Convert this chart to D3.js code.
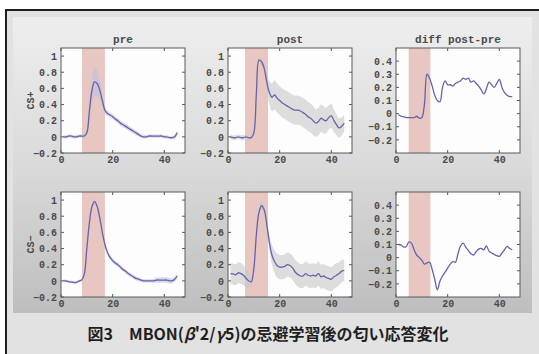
<!DOCTYPE html>
<html lang="ja">
<head>
<meta charset="utf-8">
<title>MBON(β'2/γ5) odor response</title>
<script src="https://d3js.org/d3.v7.min.js"></script>
<style>
  body { margin: 0; background: #fff; }
</style>
</head>
<body>
<div id="figure"></div>
<script>

// ---- data ----
var timePoints = [1,2,3,4,5,6,7,8,9,10,11,12,13,14,15,16,17,18,19,20,21,22,23,24,25,26,27,28,29,30,31,32,33,34,35,36,37,38,39,40,41,42,43,44,45];

var preCSplus = [0.00,0.00,0.01,0.01,0.00,0.00,0.01,0.01,0.01,0.05,
  0.32,0.58,0.68,0.66,0.58,0.45,0.33,0.29,0.27,0.25,
  0.22,0.20,0.17,0.15,0.13,0.11,0.09,0.07,0.05,0.03,
  0.01,0.00,0.00,0.01,0.01,0.01,0.01,0.01,0.01,0.00,
  0.00,-0.01,-0.01,0.00,0.05];
var preCSplusSem = [0.02,0.02,0.02,0.02,0.02,0.02,0.02,0.02,0.02,0.03,
  0.08,0.14,0.17,0.16,0.12,0.08,0.05,0.03,0.03,0.03,
  0.03,0.03,0.03,0.03,0.03,0.03,0.03,0.03,0.03,0.03,
  0.02,0.02,0.02,0.02,0.02,0.02,0.02,0.02,0.02,0.02,
  0.02,0.02,0.02,0.03,0.03];

var postCSplus = [0.00,-0.01,-0.01,0.00,-0.01,-0.01,0.00,-0.01,-0.01,0.05,
  0.55,0.95,0.93,0.85,0.68,0.55,0.49,0.52,0.48,0.45,
  0.42,0.40,0.38,0.36,0.34,0.33,0.33,0.32,0.30,0.28,
  0.25,0.23,0.20,0.17,0.19,0.23,0.21,0.20,0.24,0.26,
  0.20,0.15,0.11,0.13,0.17];
var postCSplusSem = [0.03,0.03,0.03,0.03,0.03,0.03,0.03,0.03,0.03,0.03,
  0.04,0.04,0.04,0.06,0.10,0.14,0.17,0.18,0.18,0.18,
  0.18,0.18,0.18,0.18,0.18,0.18,0.18,0.18,0.18,0.18,
  0.18,0.18,0.18,0.17,0.17,0.17,0.17,0.16,0.15,0.15,
  0.14,0.13,0.12,0.11,0.10];

var diffCSplus = [-0.01,-0.02,-0.025,-0.03,-0.03,-0.03,-0.03,-0.02,-0.035,-0.03,
  0.07,0.30,0.27,0.21,0.14,0.10,0.09,0.20,0.25,0.22,
  0.22,0.21,0.23,0.24,0.25,0.27,0.26,0.27,0.24,0.25,
  0.23,0.21,0.18,0.15,0.19,0.24,0.22,0.20,0.23,0.26,
  0.20,0.16,0.14,0.13,0.13];

var preCSminus = [0.00,0.00,-0.01,-0.015,-0.02,-0.02,0.00,0.01,0.08,0.40,
  0.72,0.92,0.98,0.92,0.78,0.60,0.45,0.35,0.29,0.25,
  0.22,0.20,0.17,0.14,0.12,0.09,0.07,0.05,0.03,0.02,
  0.01,0.00,0.00,0.00,0.00,0.00,0.01,0.01,0.01,0.01,
  0.01,0.00,0.00,0.02,0.06];
var preCSminusSem = [0.015,0.015,0.015,0.015,0.015,0.015,0.015,0.015,0.02,0.03,
  0.03,0.03,0.03,0.03,0.03,0.03,0.03,0.03,0.03,0.03,
  0.025,0.025,0.025,0.025,0.025,0.025,0.025,0.025,0.025,0.025,
  0.02,0.02,0.02,0.02,0.02,0.025,0.03,0.035,0.035,0.035,
  0.035,0.035,0.03,0.03,0.03];

var postCSminus = [0.09,0.085,0.075,0.10,0.09,0.07,0.03,0.00,-0.01,0.15,
  0.58,0.85,0.93,0.88,0.70,0.48,0.32,0.24,0.19,0.17,
  0.17,0.18,0.20,0.19,0.16,0.11,0.08,0.06,0.06,0.09,
  0.07,0.06,0.07,0.06,0.09,0.05,0.06,0.04,0.03,0.02,
  0.05,0.07,0.09,0.12,0.13];
var postCSminusSem = [0.13,0.13,0.13,0.13,0.13,0.12,0.11,0.10,0.08,0.06,
  0.05,0.05,0.05,0.05,0.06,0.08,0.12,0.14,0.15,0.15,
  0.15,0.15,0.15,0.15,0.15,0.15,0.15,0.15,0.15,0.15,
  0.15,0.15,0.15,0.15,0.15,0.15,0.15,0.15,0.15,0.15,
  0.15,0.15,0.14,0.14,0.13];

var diffCSminus = [0.10,0.095,0.08,0.085,0.12,0.11,0.06,0.02,0.00,-0.02,
  -0.05,-0.04,-0.035,-0.09,-0.165,-0.245,-0.18,-0.14,-0.11,-0.08,
  -0.05,-0.03,-0.035,0.03,0.09,0.11,0.08,0.055,0.03,0.02,
  0.045,0.065,0.07,0.06,0.09,0.05,0.035,0.025,0.015,0.01,
  0.035,0.06,0.085,0.07,0.06];

// odor window (shaded) for each column, in time units
var stimStart = [8.1, 6.6, 4.9];
var stimEnd = [17.0, 15.5, 13.3];

var colTitles = ["pre", "post", "diff post-pre"];
var rowLabels = ["CS+", "CS\u2212"];
var xTicks = [0, 20, 40];
var respTicks = [-0.2, 0, 0.2, 0.4, 0.6, 0.8, 1];
var diffTicks = [-0.2, -0.1, 0, 0.1, 0.2, 0.3, 0.4];

var panels = [
  {row: 0, col: 0, mean: preCSplus, sem: preCSplusSem, band: "#bfbfe0"},
  {row: 0, col: 1, mean: postCSplus, sem: postCSplusSem, band: "#c8c8c8"},
  {row: 0, col: 2, mean: diffCSplus, sem: null},
  {row: 1, col: 0, mean: preCSminus, sem: preCSminusSem, band: "#bfbfe0"},
  {row: 1, col: 1, mean: postCSminus, sem: postCSminusSem, band: "#c8c8c8"},
  {row: 1, col: 2, mean: diffCSminus, sem: null}
];

// ---- layout ----
var W = 539, H = 354;
var colX = [61, 228, 396];
var rowY = [48, 192];
var fw = 124, fh = 105;

var tickFont = "'Liberation Mono', 'DejaVu Sans Mono', monospace";
var fmt = d3.format("~g");

var svg = d3.select("#figure")
  .append("svg")
  .attr("width", W)
  .attr("height", H)
  .style("display", "block");

var defs = svg.append("defs");
var grad = defs.append("linearGradient")
  .attr("id", "panelGrad")
  .attr("x1", 0).attr("y1", 0).attr("x2", 0).attr("y2", 1);
grad.append("stop").attr("offset", "0%").attr("stop-color", "#eeeeee");
grad.append("stop").attr("offset", "50%").attr("stop-color", "#dadada");
grad.append("stop").attr("offset", "100%").attr("stop-color", "#bebebe");

// slide background + black border lines
svg.append("rect").attr("width", W).attr("height", H).attr("fill", "#ffffff");
svg.append("rect").attr("x", 6).attr("y", 10).attr("width", W - 6).attr("height", H - 10).attr("fill", "#e2e2e2");
svg.append("rect").attr("x", 5).attr("y", 9).attr("width", W - 5).attr("height", 2).attr("fill", "#1e1e1e");
svg.append("rect").attr("x", 5).attr("y", 9).attr("width", 2).attr("height", H - 9).attr("fill", "#1e1e1e");
svg.append("rect").attr("x", 13).attr("y", 17).attr("width", 519).attr("height", 296).attr("fill", "url(#panelGrad)");

panels.forEach(function(p, i) {
  var isDiff = p.sem === null;
  var x = d3.scaleLinear().domain([0, 48]).range([0, fw]);
  var y = d3.scaleLinear()
    .domain(isDiff ? [-0.3, 0.5] : [-0.2, 1.1])
    .range([fh, 0]);
  var yTicks = isDiff ? diffTicks : respTicks;

  var g = svg.append("g")
    .attr("transform", "translate(" + colX[p.col] + "," + rowY[p.row] + ")");

  defs.append("clipPath").attr("id", "clip" + i)
    .append("rect").attr("width", fw).attr("height", fh);

  g.append("rect")
    .attr("width", fw)
    .attr("height", fh)
    .attr("fill", "#fdfdfd");

  var plot = g.append("g").attr("clip-path", "url(#clip" + i + ")");

  // odor window
  plot.append("rect")
    .attr("x", x(stimStart[p.col]))
    .attr("y", 0)
    .attr("width", x(stimEnd[p.col]) - x(stimStart[p.col]))
    .attr("height", fh)
    .attr("fill", "#e8c6c2");

  var pts = timePoints.map(function(t, k) {
    return {t: t, m: p.mean[k], s: p.sem ? p.sem[k] : 0};
  });

  if (!isDiff) {
    var area = d3.area()
      .x(function(d) { return x(d.t); })
      .y0(function(d) { return y(d.m - d.s); })
      .y1(function(d) { return y(d.m + d.s); })
      .curve(d3.curveCatmullRom);
    plot.append("path")
      .datum(pts)
      .attr("d", area)
      .attr("fill", p.band)
      .attr("opacity", 0.6);
  }

  var line = d3.line()
    .x(function(d) { return x(d.t); })
    .y(function(d) { return y(d.m); })
    .curve(d3.curveCatmullRom);
  plot.append("path")
    .datum(pts)
    .attr("d", line)
    .attr("fill", "none")
    .attr("stroke", "#6464aa")
    .attr("stroke-width", 1.3);

  // frame
  g.append("rect")
    .attr("width", fw)
    .attr("height", fh)
    .attr("fill", "none")
    .attr("stroke", "#5a5a5a")
    .attr("stroke-width", 1);

  // inward ticks on every side (matlab style)
  yTicks.forEach(function(v) {
    g.append("line").attr("x1", 0).attr("x2", 3).attr("y1", y(v)).attr("y2", y(v)).attr("stroke", "#5a5a5a");
    g.append("line").attr("x1", fw - 3).attr("x2", fw).attr("y1", y(v)).attr("y2", y(v)).attr("stroke", "#5a5a5a");
  });
  xTicks.forEach(function(v) {
    g.append("line").attr("x1", x(v)).attr("x2", x(v)).attr("y1", fh - 3).attr("y2", fh).attr("stroke", "#5a5a5a");
    g.append("line").attr("x1", x(v)).attr("x2", x(v)).attr("y1", 0).attr("y2", 3).attr("stroke", "#5a5a5a");
  });

  // tick labels
  var yAxis = g.append("g")
    .call(d3.axisLeft(y).tickValues(yTicks).tickSize(0).tickPadding(4).tickFormat(fmt));
  var xAxis = g.append("g")
    .attr("transform", "translate(0," + fh + ")")
    .call(d3.axisBottom(x).tickValues(xTicks).tickSize(0).tickPadding(3).tickFormat(fmt));
  [yAxis, xAxis].forEach(function(ax) {
    ax.select(".domain").remove();
    ax.selectAll("text")
      .attr("fill", "#4a4a4a")
      .style("font-family", tickFont)
      .style("font-weight", "bold")
      .style("font-size", "10px");
  });

  if (p.row === 0) {
    g.append("text")
      .attr("x", fw / 2)
      .attr("y", -5)
      .attr("text-anchor", "middle")
      .attr("fill", "#4a4a4a")
      .style("font-family", tickFont)
      .style("font-weight", "bold")
      .style("font-size", "11px")
      .text(colTitles[p.col]);
  }

  if (p.col === 0) {
    g.append("text")
      .attr("transform", "translate(-30," + (fh / 2) + ") rotate(-90)")
      .attr("text-anchor", "middle")
      .attr("dominant-baseline", "central")
      .attr("fill", "#4a4a4a")
      .style("font-family", tickFont)
      .style("font-weight", "bold")
      .style("font-size", "10px")
      .text(rowLabels[p.row]);
  }
});

// caption
var cap = svg.append("text")
  .attr("x", 268)
  .attr("y", 340)
  .attr("text-anchor", "middle")
  .attr("fill", "#1f1f1f")
  .style("font-family", "'Noto Sans CJK JP', 'Noto Sans', sans-serif")
  .style("font-weight", "bold")
  .style("font-size", "16px");
cap.append("tspan").text("図3\u3000MBON(");
cap.append("tspan").style("font-style", "italic").text("β");
cap.append("tspan").text("'2/");
cap.append("tspan").style("font-style", "italic").text("γ");
cap.append("tspan").text("5)の忌避学習後の匂い応答変化");

</script>
</body>
</html>
